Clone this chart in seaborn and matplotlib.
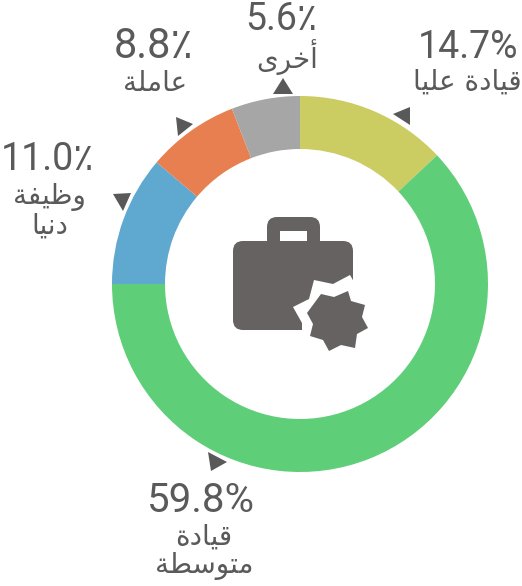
import matplotlib
matplotlib.use('Agg')
import matplotlib.pyplot as plt
from matplotlib.patches import Polygon, FancyBboxPatch, Rectangle
import seaborn as sns

# Data: printed percentages, and the arc shares as drawn in the picture (they differ)
categories = ['قيادة عليا', 'قيادة متوسطة', 'وظيفة دنيا', 'عاملة', 'أخرى']
printed = ['14.7%', '59.8%', '11.0٪', '8.8٪', '5.6٪']
arc_shares = [13.0, 62.0, 11.2, 7.9, 5.9]
colors = ['#CBCC62', '#5FCE78', '#5FA8D0', '#E87F50', '#A6A6A6']

# Presentation forms: isolated, final, initial, medial
forms = {
    'ا': (0xFE8D, 0xFE8E), 'أ': (0xFE83, 0xFE84), 'د': (0xFEA9, 0xFEAA),
    'ر': (0xFEAD, 0xFEAE), 'و': (0xFEED, 0xFEEE), 'ة': (0xFE93, 0xFE94),
    'ى': (0xFEEF, 0xFEF0),
    'ت': (0xFE95, 0xFE96, 0xFE97, 0xFE98), 'خ': (0xFEA5, 0xFEA6, 0xFEA7, 0xFEA8),
    'س': (0xFEB1, 0xFEB2, 0xFEB3, 0xFEB4), 'ط': (0xFEC1, 0xFEC2, 0xFEC3, 0xFEC4),
    'ظ': (0xFEC5, 0xFEC6, 0xFEC7, 0xFEC8), 'ع': (0xFEC9, 0xFECA, 0xFECB, 0xFECC),
    'ف': (0xFED1, 0xFED2, 0xFED3, 0xFED4), 'ق': (0xFED5, 0xFED6, 0xFED7, 0xFED8),
    'ل': (0xFEDD, 0xFEDE, 0xFEDF, 0xFEE0), 'م': (0xFEE1, 0xFEE2, 0xFEE3, 0xFEE4),
    'ن': (0xFEE5, 0xFEE6, 0xFEE7, 0xFEE8), 'ي': (0xFEF1, 0xFEF2, 0xFEF3, 0xFEF4),
}


# matplotlib does no Arabic shaping, so pick the joined forms and reverse the line
def shape(word):
    out = []
    for i, ch in enumerate(word):
        f = forms.get(ch)
        if f is None:
            out.append(ch)
            continue
        prev = word[i - 1] if i > 0 else ' '
        nxt = word[i + 1] if i < len(word) - 1 else ' '
        joins_prev = prev in forms and len(forms[prev]) == 4
        joins_next = nxt in forms and len(f) == 4
        if joins_prev and joins_next:
            code = f[3]
        elif joins_prev:
            code = f[1]
        elif joins_next:
            code = f[2]
        else:
            code = f[0]
        out.append(chr(code))
    return ''.join(reversed(out))


sns.set_theme(style='white')
plt.rcParams['font.family'] = ['Roboto', 'DejaVu Sans']

W, H = 522, 586
fig = plt.figure(figsize=(W / 100, H / 100), dpi=100)
ax = fig.add_axes([0, 0, 1, 1])

ax.pie(arc_shares, colors=sns.color_palette(colors), startangle=90, counterclock=False,
       center=(300, H - 284), radius=188, wedgeprops={'width': 53, 'linewidth': 0},
       frame=True)
ax.set_xlim(0, W)
ax.set_ylim(0, H)
ax.axis('off')


def up(points):
    return [(x, H - y) for x, y in points]


# little pointers next to the ring
pointers = [
    [(393, 114), (410, 107), (410, 125)],
    [(208, 452), (227, 462), (211, 471)],
    [(113, 194), (131, 193), (123, 211)],
    [(176, 117), (193, 124), (178, 136)],
    [(283, 78), (273, 94), (293, 94)],
]
for tri in pointers:
    ax.add_patch(Polygon(up(tri), closed=True, fc='#595959', ec='none'))

# briefcase icon
icon = '#666261'
ax.add_patch(FancyBboxPatch((267 + 10, H - 250 + 10), 53 - 20, 33 - 20, boxstyle='round,pad=10',
                            fc=icon, ec='none'))
ax.add_patch(Rectangle((280, H - 241), 27, 10, fc='white', ec='none'))
ax.add_patch(FancyBboxPatch((233 + 10, H - 330 + 10), 120 - 20, 89 - 20, boxstyle='round,pad=10',
                            fc=icon, ec='none'))
cut = [(293, 307), (309, 299), (314, 280), (333, 284), (350, 275), (354, 282),
       (356, 336), (302, 332), (302, 323)]
ax.add_patch(Polygon(up(cut), closed=True, fc='white', ec='none'))
star = [(307, 313), (321, 294), (334, 297), (348, 291), (351, 301), (365, 305),
        (362, 317), (368, 328), (357, 334), (355, 348), (341, 345), (329, 351),
        (323, 340), (310, 336), (313, 324)]
ax.add_patch(Polygon(up(star), closed=True, fc=icon, ec='none'))

# text: value line then one or two label lines
txt = '#5A5A5A'
value_pos = [(468, 48), (201, 501), (48, 160), (154, 47), (281, 19)]
value_size = [27, 29, 27, 30, 27]
label_pos = [
    [(467, 82, categories[0])],
    [(204, 537, categories[1].split()[0]), (204, 566, categories[1].split()[1])],
    [(49, 197, categories[2].split()[0]), (50, 226, categories[2].split()[1])],
    [(155, 83, categories[3])],
    [(287, 57, categories[4])],
]
for val, (x, y), size, lines in zip(printed, value_pos, value_size, label_pos):
    ax.text(x, H - y, val, fontsize=size, color=txt, ha='center', va='center')
    for lx, ly, line in lines:
        ax.text(lx, H - ly, shape(line), fontsize=20, color=txt, ha='center', va='center',
                family=['DejaVu Sans'])

fig.savefig('out.png', dpi=100, facecolor='white')
